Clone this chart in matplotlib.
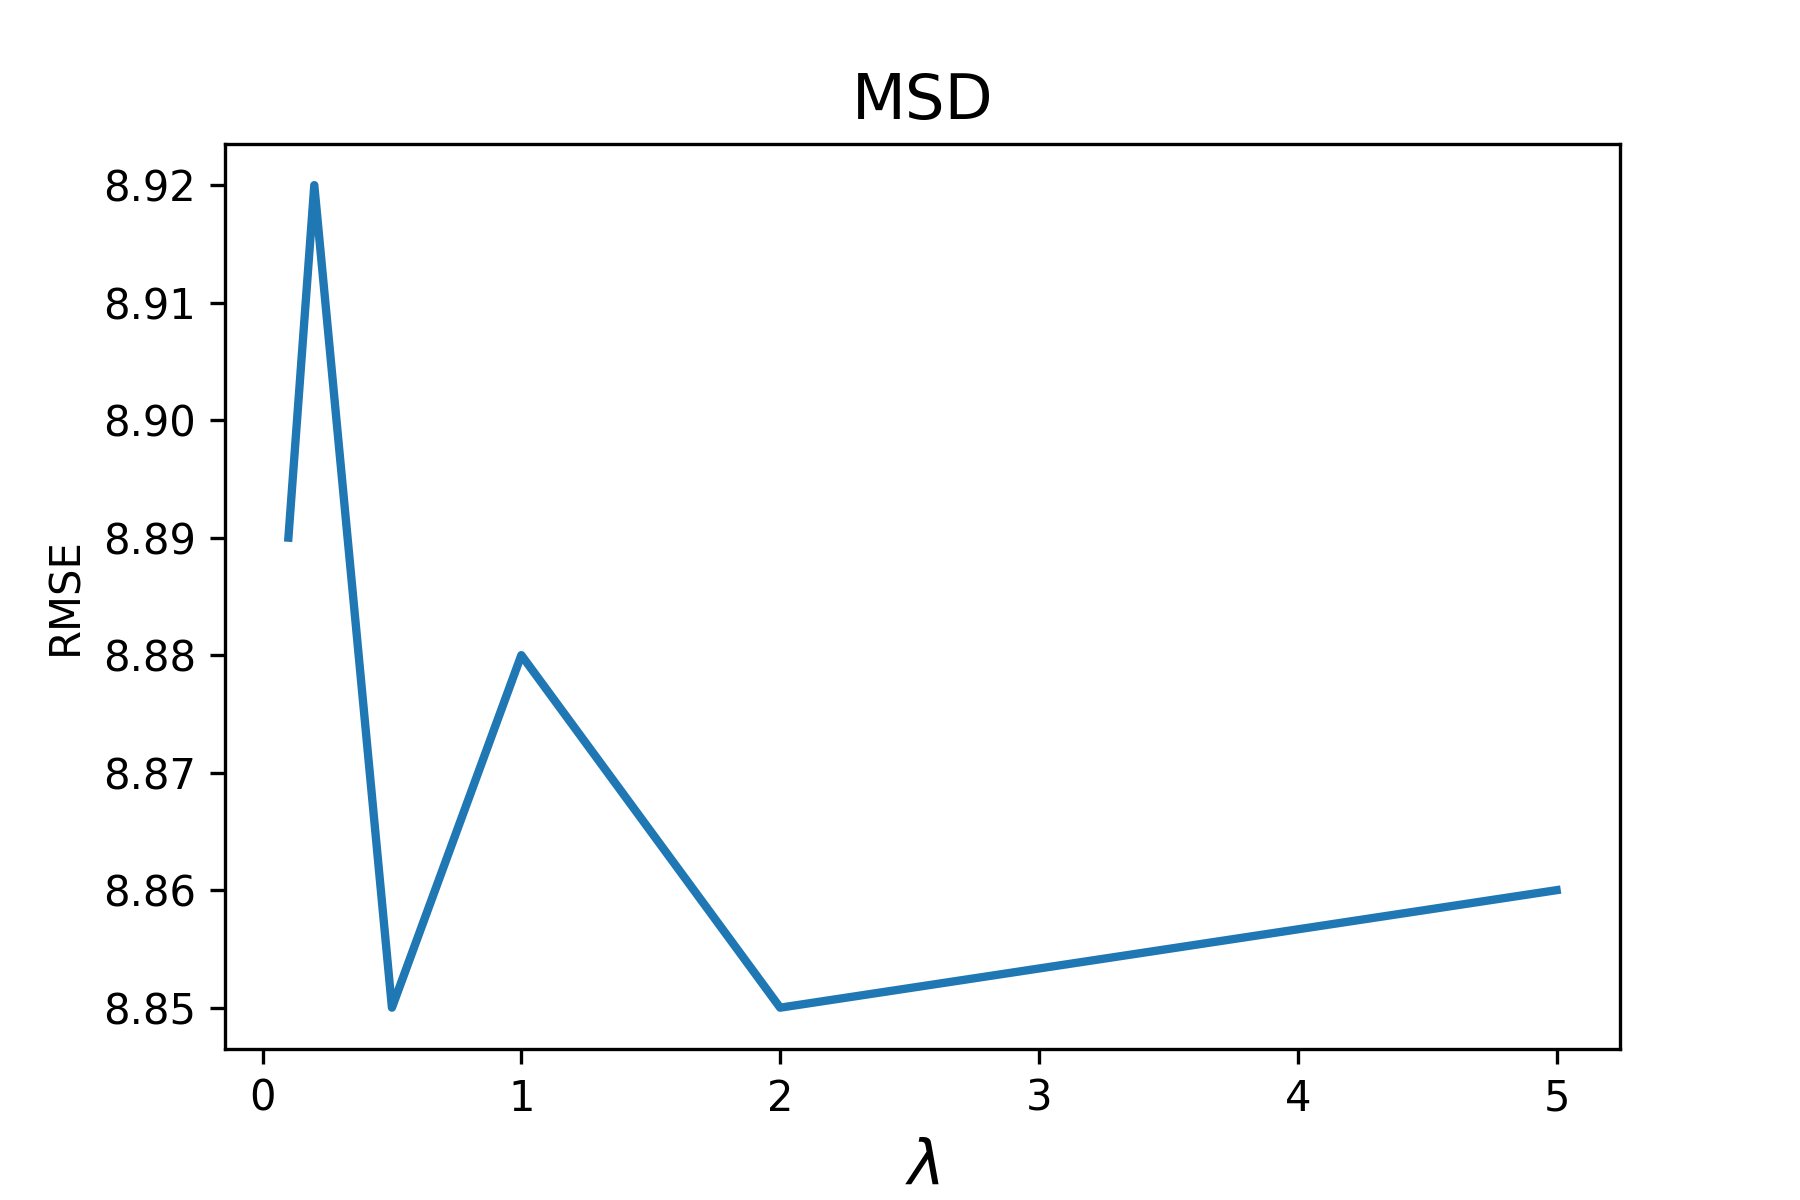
import matplotlib
matplotlib.use("Agg")
import matplotlib.pyplot as plt

lambdas = [0.1, 0.2, 0.5, 1, 2, 5]
rmse = [8.89, 8.92, 8.85, 8.88, 8.85, 8.86]

fig, ax = plt.subplots(figsize=(6, 4), dpi=300)
fig.subplots_adjust(bottom=0.126)
ax.plot(lambdas, rmse, linewidth=2)
ax.set_title("MSD", fontsize=15)
ax.set_xlabel(r"$\lambda$", fontsize=15)
ax.set_ylabel("RMSE")
fig.savefig("out.png", dpi=300)
